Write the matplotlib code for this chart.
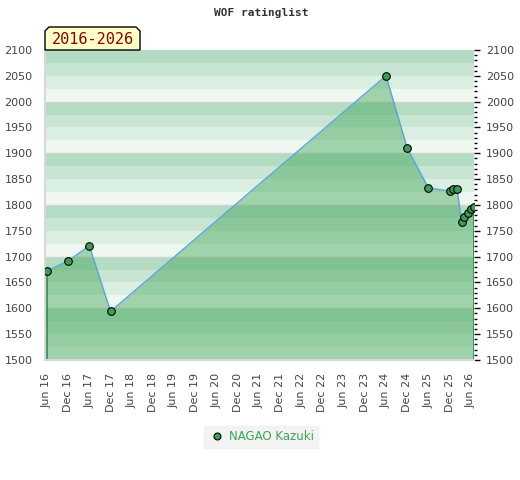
import matplotlib
matplotlib.use('Agg')
import matplotlib.pyplot as plt
from matplotlib.patches import Polygon
from matplotlib.lines import Line2D
from matplotlib.ticker import MultipleLocator
import pandas as pd

# --- data --- #
dates = pd.to_datetime([
    '2016-06-01', '2016-12-01', '2017-06-01', '2017-12-01',
    '2024-06-01', '2024-12-01', '2025-06-01', '2025-12-01',
    '2026-01-01', '2026-02-04', '2026-03-14', '2026-03-31',
    '2026-05-05', '2026-06-02', '2026-06-25',
])
ratings = [1672, 1692, 1721, 1594,
           2050, 1910, 1833, 1827,
           1830, 1830, 1768, 1776,
           1785, 1792, 1797]
player = 'NAGAO Kazuki'
period = '2016-2026'
title = 'WOF ratinglist'
tick_dates = pd.date_range('2016-06-01', '2026-06-01', freq='6MS')
tick_labels = [d.strftime('%b %y') for d in tick_dates]

# --- styles --- #
stripe_colors = ['#eff7f1', '#dbeee2', '#c8e5d4', '#b3dcc3']  # bottom -> top in each 100 block
fill_color = (64 / 255, 165 / 255, 88 / 255)
marker_color = '#3a9e58'
line_color = '#5ba3d9'
label_color = '#444444'

fig = plt.figure(figsize=(5.2, 4.8), dpi=100)
ax = fig.add_axes([45 / 520, 1 - 360 / 480, 428.5 / 520, 310 / 480])

y_min, y_max = 1500, 2100
for i, lo in enumerate(range(y_min, y_max, 25)):
    ax.axhspan(lo, lo + 25, color=stripe_colors[i % 4], lw=0, zorder=0)
for g in range(y_min + 100, y_max, 100):
    ax.axhline(g, color='#d2d2d2', lw=1, zorder=0.5)

ax.fill_between(dates, ratings, y_min, color=fill_color, alpha=0.45, lw=0, zorder=1)
ax.vlines([dates[0], dates[-1]], y_min, [ratings[0], ratings[-1]],
          color='#2a8a45', lw=1.2, zorder=2)
ax.plot(dates, ratings, color=line_color, lw=1, zorder=3)
ax.plot(dates, ratings, 'o', ms=5.5, mfc=marker_color, mec='black', mew=0.8,
        zorder=4, clip_on=True)

ax.set_xlim(pd.Timestamp('2016-05-15'), dates[-1])
ax.set_ylim(y_min, y_max)
ax.set_xticks(tick_dates)
ax.set_xticklabels(tick_labels, rotation=90, fontsize=8, color=label_color)
ax.tick_params(axis='x', length=0, pad=9)

ax.set_yticks(range(y_min, y_max + 1, 50))
ax.yaxis.set_minor_locator(MultipleLocator(10))
ax.tick_params(axis='y', which='both', left=False, right=True,
               labelleft=True, labelright=True, labelsize=8,
               labelcolor=label_color, direction='out')
ax.tick_params(axis='y', which='major', length=4, width=1, pad=5)
ax.tick_params(axis='y', which='minor', length=2, width=1)
for lab in ax.yaxis.get_ticklabels():
    lab.set_x(lab.get_position()[0])
ax.yaxis.set_tick_params(which='major', pad=5)

for side in ['top', 'right']:
    ax.spines[side].set_visible(False)
for side in ['left', 'bottom']:
    ax.spines[side].set_color('#d8d8d8')
    ax.spines[side].set_linewidth(1.5)

fig.text(261 / 520, 1 - 13 / 480, title, ha='center', va='center',
         family='DejaVu Sans Mono', fontsize=8, fontweight='bold', color='#333333')

# period label box with cut top corners
px = [(45, 50), (45, 31), (49, 27), (136, 27), (140, 31), (140, 50)]
box = Polygon([(x / 520, 1 - y / 480) for x, y in px], closed=True,
              transform=fig.transFigure, facecolor='#ffffc6', edgecolor='black', lw=1)
fig.patches.append(box)
fig.text(92.5 / 520, 1 - 39.5 / 480, period, ha='center', va='center',
         family='DejaVu Sans Mono', fontsize=11, color='#8b0000')

handle = Line2D([0], [0], marker='o', ls='', ms=5, mfc=marker_color,
                mec='black', mew=0.8)
leg = fig.legend([handle], [player], loc='center',
                 bbox_to_anchor=(261 / 520, 1 - 437 / 480), frameon=True,
                 fancybox=False, facecolor='#f0f0f0', edgecolor='#f0f0f0',
                 fontsize=8.5, handletextpad=0.2, handlelength=1.5, borderpad=0.4)
for t in leg.get_texts():
    t.set_color('#3aa655')

plt.savefig('out.png', dpi=100)
